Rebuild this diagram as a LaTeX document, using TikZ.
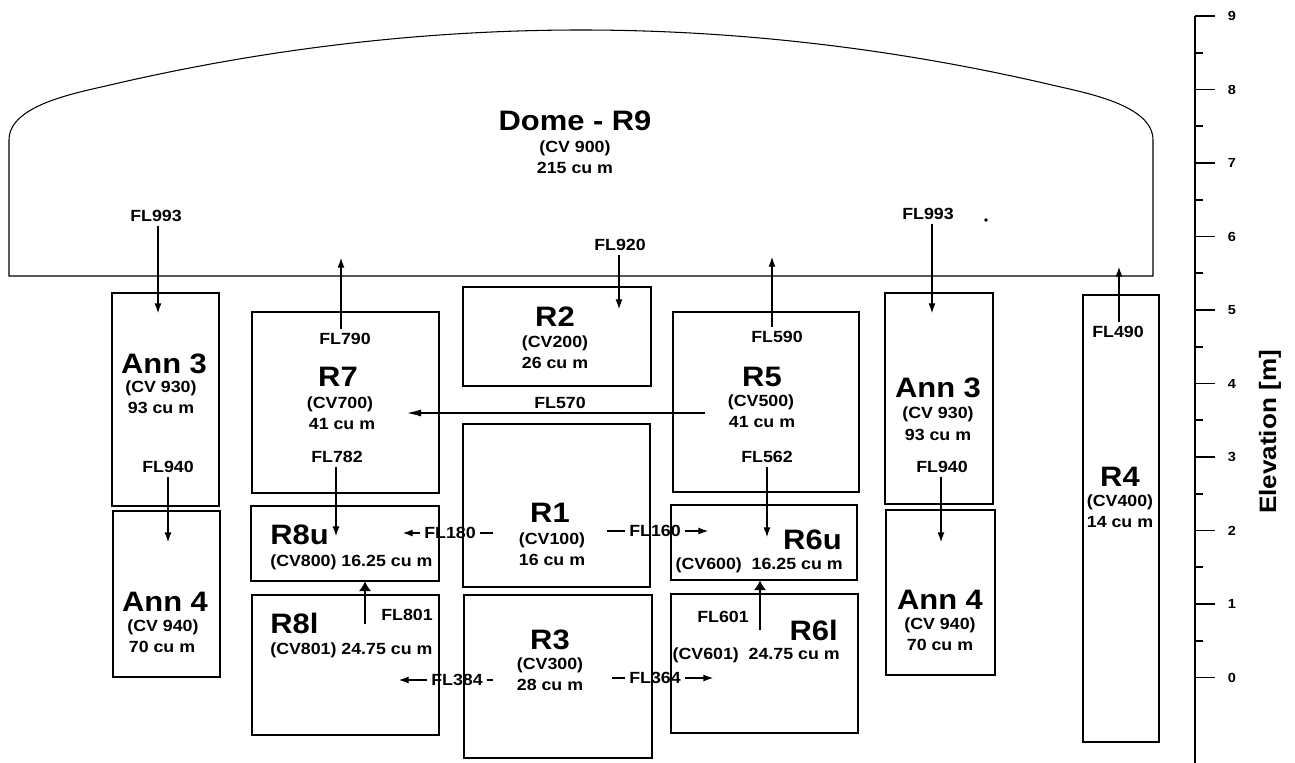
\documentclass[tikz,border=0pt]{standalone}
\usepackage{fontspec}
\setmainfont{Liberation Sans}[FakeStretch=1.1]
\usetikzlibrary{arrows.meta,fit}

\begin{document}
\begin{tikzpicture}[x=0.02cm,y=-0.02cm,
  vol/.style={draw,line width=0.6pt,inner sep=0pt},
  big/.style={font=\fontsize{16}{18}\selectfont\bfseries,inner sep=0pt},
  lbl/.style={font=\fontsize{9.2}{11}\selectfont\bfseries,inner sep=0pt},
  fl/.style={font=\fontsize{9.2}{11}\selectfont\bfseries,inner sep=2pt},
  num/.style={font=\fontsize{7.5}{9}\selectfont\bfseries,inner sep=0pt},
  flow/.style={line width=0.6pt,-{Latex[length=5.5pt,width=4pt]}},
  longflow/.style={line width=0.6pt,-{Latex[length=8pt,width=4pt]}},
  bigflow/.style={line width=0.6pt,-{Latex[length=5.5pt,width=7pt]}},
  tick/.style={line width=1.1pt}]
\useasboundingbox (0,0) rectangle (1295,763);

\draw[line width=0.6pt] (9,276) -- (9,140) .. controls (9,105) and (76,93) .. (110,85)
  .. controls (264,49) and (423,30) .. (581,30) .. controls (739,30) and (898,49) .. (1052,85)
  .. controls (1086,93) and (1153,105) .. (1153,140) -- (1153,276) -- cycle;
\node[big] (r9) at (575,121) {Dome - R9};
\node[lbl] at (575,148) {(CV 900)};
\node[lbl] at (575,168) {215 cu m};
\filldraw (986,220) circle [radius=0.8pt];

\node[vol,fit={(112,293) (219,506)}] (ann3l) {};
\node[vol,fit={(113,511) (220,677)}] (ann4l) {};
\node[vol,fit={(252,312) (439,493)}] (r7) {};
\node[vol,fit={(251,506) (439,581)}] (r8u) {};
\node[vol,fit={(252,595) (439,735)}] (r8l) {};
\node[vol,fit={(463,287) (651,386)}] (r2) {};
\node[vol,fit={(463,424) (650,587)}] (r1) {};
\node[vol,fit={(464,595) (652,758)}] (r3) {};
\node[vol,fit={(673,312) (859,492)}] (r5) {};
\node[vol,fit={(671,505) (857,580)}] (r6u) {};
\node[vol,fit={(671,594) (858,733)}] (r6l) {};
\node[vol,fit={(885,293) (993,504)}] (ann3r) {};
\node[vol,fit={(886,510) (995,675)}] (ann4r) {};
\node[vol,fit={(1083,295) (1159,742)}] (r4) {};

\node[big] at (164,364) {Ann 3};
\node[lbl] at (161,388) {(CV 930)};
\node[lbl] at (161,408) {93 cu m};
\node[big] at (165,602) {Ann 4};
\node[lbl] at (163,627) {(CV 940)};
\node[lbl] at (162,647) {70 cu m};

\node[big] at (338,377) {R7};
\node[lbl] at (340,404) {(CV700)};
\node[lbl] at (342,424) {41 cu m};
\node[big,anchor=west] at (270,535) {R8u};
\node[lbl,anchor=west] at (270,562) {(CV800) 16.25 cu m};
\node[big,anchor=west] at (270,623) {R8l};
\node[lbl,anchor=west] at (270,650) {(CV801) 24.75 cu m};

\node[big] at (555,317) {R2};
\node[lbl] at (555,343) {(CV200)};
\node[lbl] at (555,363) {26 cu m};
\node[big] at (550,513) {R1};
\node[lbl] at (552,540) {(CV100)};
\node[lbl] at (552,560) {16 cu m};
\node[big] at (550,640) {R3};
\node[lbl] at (550,665) {(CV300)};
\node[lbl] at (550,685) {28 cu m};

\node[big] at (762,377) {R5};
\node[lbl] at (761,402) {(CV500)};
\node[lbl] at (762,422) {41 cu m};
\node[big,anchor=east] at (842,540) {R6u};
\node[lbl,anchor=east] at (843,565) {(CV600)\ \ 16.25 cu m};
\node[big,anchor=east] at (838,630) {R6l};
\node[lbl,anchor=east] at (840,655) {(CV601)\ \ 24.75 cu m};

\node[big] at (938,388) {Ann 3};
\node[lbl] at (938,414) {(CV 930)};
\node[lbl] at (938,435) {93 cu m};
\node[big] at (940,600) {Ann 4};
\node[lbl] at (940,625) {(CV 940)};
\node[lbl] at (940,645) {70 cu m};

\node[big] at (1120,477) {R4};
\node[lbl] at (1120,502) {(CV400)};
\node[lbl] at (1120,522) {14 cu m};

\node[fl] (fl993l) at (156,216) {FL993};
\coordinate (t993l) at (158,313);
\draw[flow] (t993l |- fl993l.south) -- (t993l);
\node[fl] (fl993r) at (928,214) {FL993};
\coordinate (t993r) at (932,313);
\draw[flow] (t993r |- fl993r.south) -- (t993r);
\node[fl] (fl920) at (620,245) {FL920};
\coordinate (t920) at (619,309);
\draw[flow] (t920 |- fl920.south) -- (t920);

\node[fl] (fl790) at (345,339) {FL790};
\coordinate (t790) at (341,258);
\draw[flow] (t790 |- fl790.north) -- (t790);
\node[fl] (fl590) at (777,337) {FL590};
\coordinate (t590) at (772,257);
\draw[flow] (t590 |- fl590.north) -- (t590);
\node[fl] (fl490) at (1118,332) {FL490};
\coordinate (t490) at (1119,267);
\draw[flow] (t490 |- fl490.north) -- (t490);

\node[fl] (fl940l) at (168,467) {FL940};
\coordinate (t940l) at (168,542);
\draw[flow] (t940l |- fl940l.south) -- (t940l);
\node[fl] (fl940r) at (942,467) {FL940};
\coordinate (t940r) at (941,542);
\draw[flow] (t940r |- fl940r.south) -- (t940r);
\node[fl] (fl782) at (337,457) {FL782};
\coordinate (t782) at (336,536);
\draw[flow] (t782 |- fl782.south) -- (t782);
\node[fl] (fl562) at (767,457) {FL562};
\coordinate (t562) at (767,537);
\draw[flow] (t562 |- fl562.south) -- (t562);

\node[fl] (fl570) at (560,403) {FL570};
\coordinate (s570) at (705,413);
\coordinate (t570) at (407,413);
\draw[longflow] (s570) -- (t570);

\node[fl] (fl801) at (407,615) {FL801};
\coordinate (s801) at (365,624);
\draw[bigflow] (s801) -- (s801 |- r8u.south);
\node[fl] (fl601) at (723,617) {FL601};
\coordinate (s601) at (760,630);
\draw[bigflow] (s601) -- (s601 |- r6u.south);

\node[fl] (fl180) at (450,533) {FL180};
\coordinate (e180) at (493,533);
\coordinate (t180) at (403,533);
\draw[line width=0.6pt] (e180) -- (fl180.east);
\draw[flow] (fl180.west) -- (t180);
\node[fl] (fl160) at (655,531) {FL160};
\coordinate (s160) at (607,531);
\coordinate (t160) at (708,531);
\draw[line width=0.6pt] (s160) -- (fl160.west);
\draw[flow] (fl160.east) -- (t160);
\node[fl] (fl384) at (457,680) {FL384};
\coordinate (e384) at (493,680);
\coordinate (t384) at (399,680);
\draw[line width=0.6pt] (e384) -- (fl384.east);
\draw[flow] (fl384.west) -- (t384);
\node[fl] (fl364) at (655,678) {FL364};
\coordinate (s364) at (612,678);
\coordinate (t364) at (713,678);
\draw[line width=0.6pt] (s364) -- (fl364.west);
\draw[flow] (fl364.east) -- (t364);

\draw[line width=0.6pt] (1195,16) -- (1195,763);
\foreach \e in {0,...,9} {
  \draw[tick] (1195,{677.5-73.5*\e}) -- (1215,{677.5-73.5*\e});
  \node[num] at (1232,{677.5-73.5*\e}) {\e};
}
\foreach \e in {0.5,1.5,...,8.5}
  \draw[tick] (1195,{677.5-73.5*\e}) -- (1203,{677.5-73.5*\e});
\node[rotate=90,font=\fontsize{13.5}{16}\selectfont\bfseries,inner sep=0pt] (elev) at (1270,432) {Elevation [m]};
\end{tikzpicture}
\end{document}
